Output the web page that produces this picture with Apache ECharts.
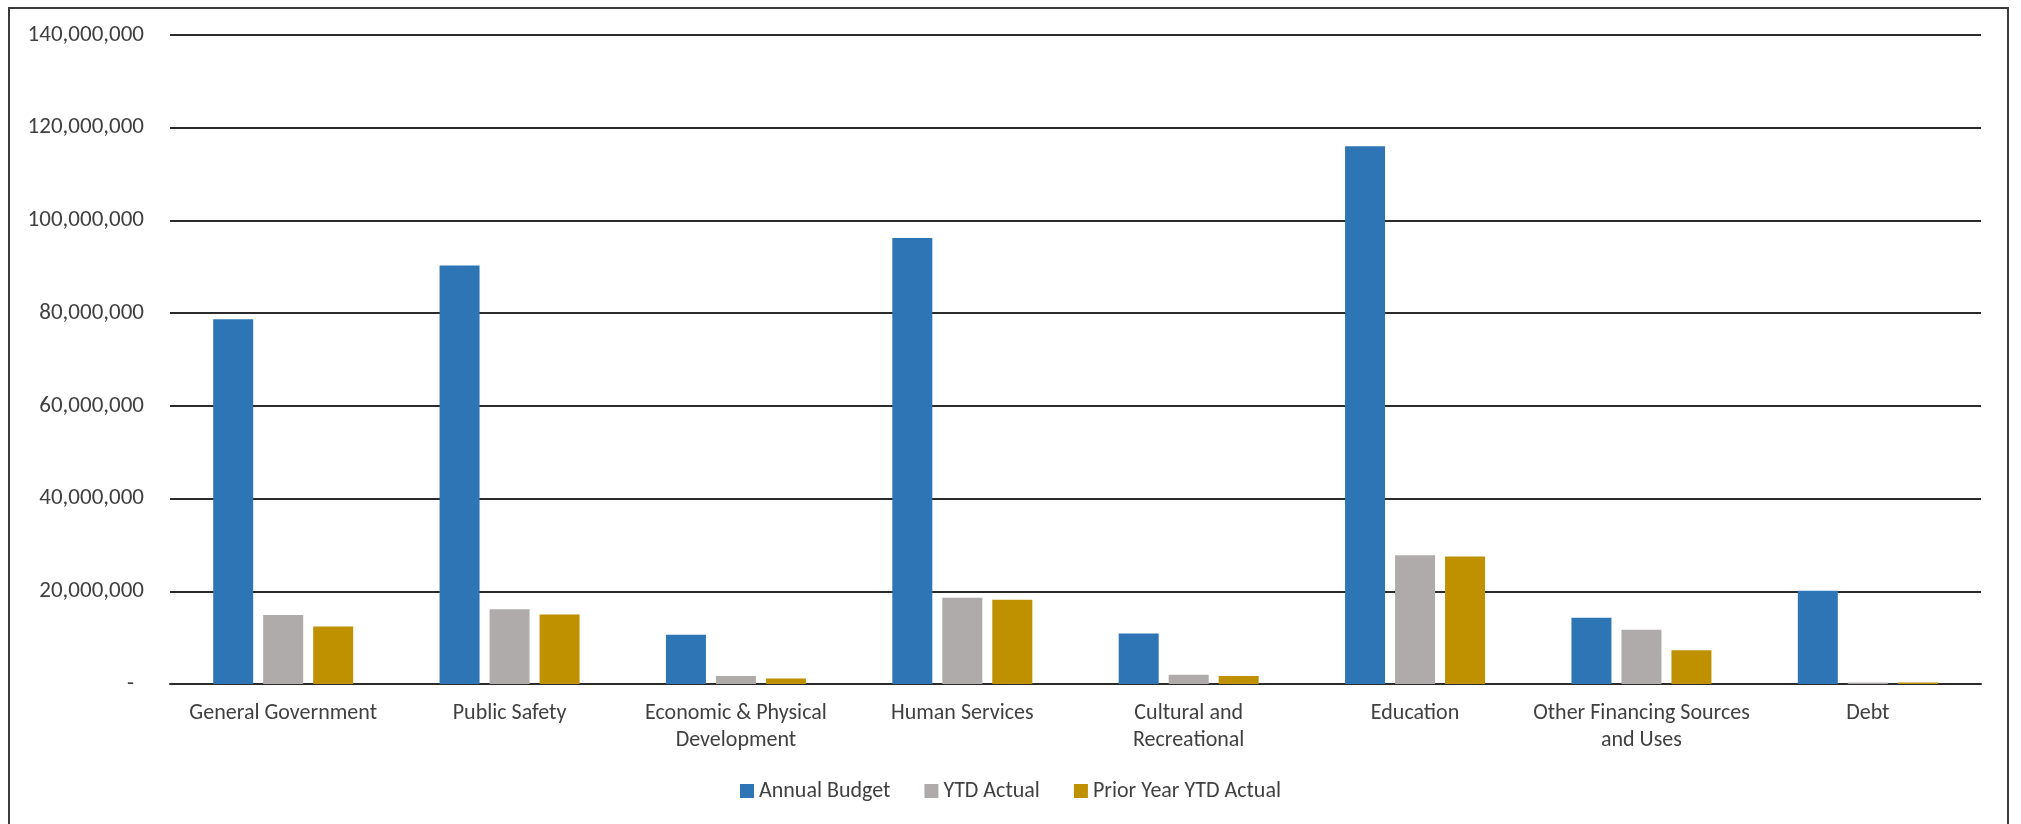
<!DOCTYPE html>
<html>
<head>
<meta charset="utf-8">
<script src="https://cdn.jsdelivr.net/npm/echarts@6/dist/echarts.min.js"></script>
<style>
html,body{margin:0;padding:0;background:#fff;}
#chart{width:2021px;height:824px;}
</style>
</head>
<body>
<div id="chart"></div>
<script>
const categories = ["General Government", "Public Safety", "Economic & Physical\nDevelopment", "Human Services", "Cultural and\nRecreational", "Education", "Other Financing Sources\nand Uses", "Debt"];
const seriesNames = ["Annual Budget", "YTD Actual", "Prior Year YTD Actual"];
const annualBudget = [78700000, 90300000, 10600000, 96200000, 10900000, 116000000, 14300000, 20100000];
const ytdActual = [14900000, 16100000, 1700000, 18600000, 2000000, 27800000, 11700000, 300000];
const priorYearYtdActual = [12400000, 15000000, 1200000, 18200000, 1700000, 27500000, 7300000, 300000];
const yTicks = [0, 20000000, 40000000, 60000000, 80000000, 100000000, 120000000, 140000000];

const colors = ["#2E75B6", "#AFABAB", "#BF9000"];
const font = "Carlito, Lato, 'Liberation Sans', sans-serif";

const chart = echarts.init(document.getElementById('chart'), null, {renderer: 'canvas'});
const dataSets = [annualBudget, ytdActual, priorYearYtdActual];

chart.setOption({
  animation: false,
  backgroundColor: '#ffffff',
  textStyle: {fontFamily: font},
  grid: {left: 170, right: 40, top: 35, bottom: 140, containLabel: false},
  graphic: [{
    type: 'rect',
    shape: {x: 9, y: 8, width: 1999, height: 830},
    style: {fill: 'none', stroke: '#3a3a3a', lineWidth: 2},
    silent: true
  }],
  legend: {
    data: seriesNames,
    left: 'center',
    top: 775,
    itemWidth: 14,
    itemHeight: 14,
    itemGap: 34,
    icon: 'rect',
    textStyle: {fontFamily: font, fontSize: 22, color: '#404040'}
  },
  xAxis: {
    type: 'category',
    data: categories,
    axisTick: {show: false},
    axisLine: {show: true, lineStyle: {color: '#2b2b2b', width: 2}},
    axisLabel: {
      interval: 0,
      margin: 16,
      fontFamily: font,
      fontSize: 22,
      lineHeight: 27,
      color: '#404040'
    }
  },
  yAxis: {
    type: 'value',
    min: yTicks[0],
    max: yTicks[yTicks.length - 1],
    interval: yTicks[1] - yTicks[0],
    axisLine: {show: false},
    axisTick: {show: false},
    splitLine: {show: true, lineStyle: {color: '#2b2b2b', width: 2}},
    axisLabel: {
      margin: 26,
      fontFamily: font,
      fontSize: 23,
      color: '#404040',
      formatter: function (v) {
        if (v === 0) return '{d|-}';
        return v.toLocaleString('en-US');
      },
      rich: {d: {fontFamily: font, fontSize: 23, color: '#404040', padding: [0, 10, 0, 0]}}
    }
  },
  series: seriesNames.map((name, i) => ({
    name: name,
    type: 'bar',
    data: dataSets[i],
    barWidth: 40,
    barGap: '25%',
    itemStyle: {color: colors[i]}
  }))
});
</script>
</body>
</html>
